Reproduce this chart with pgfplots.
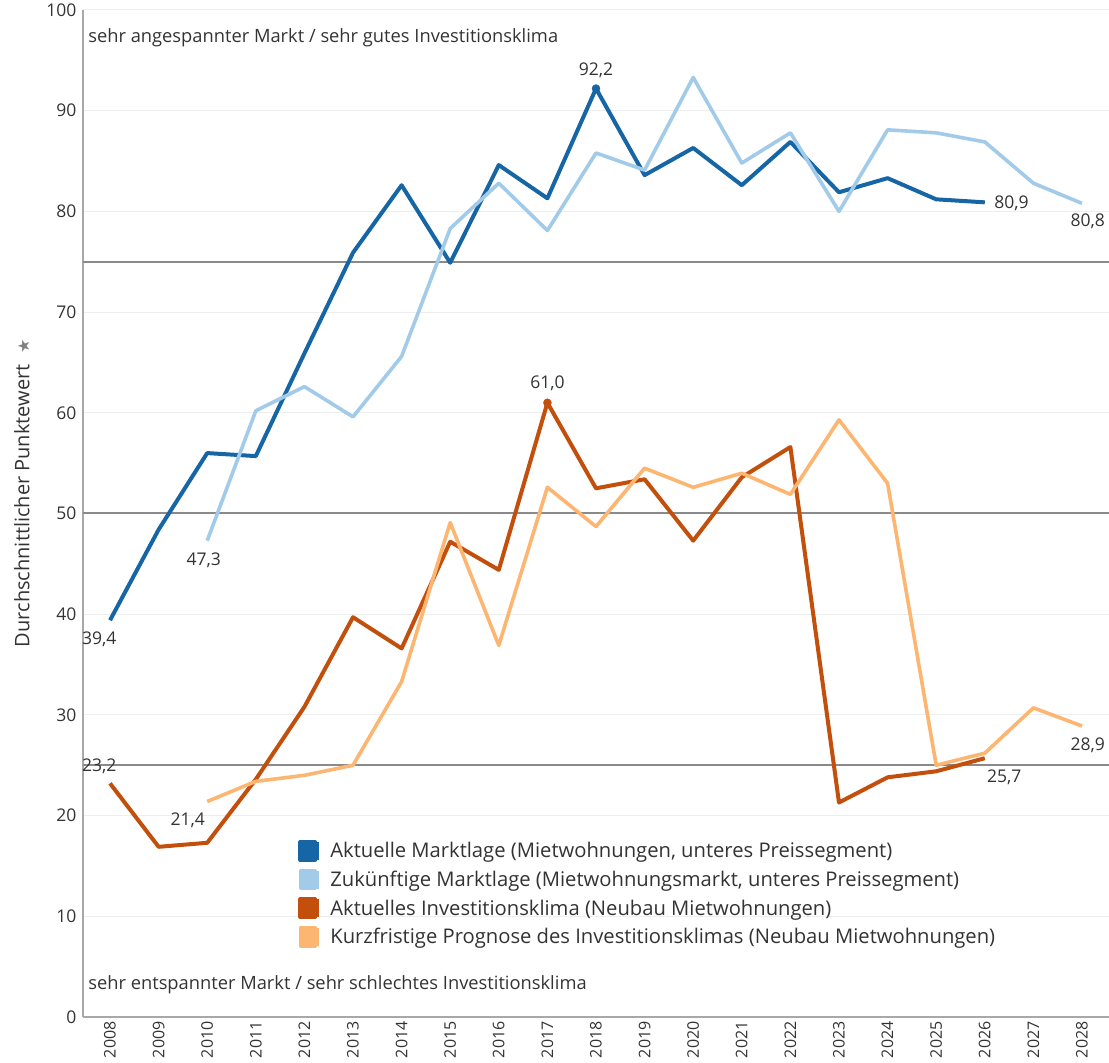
\documentclass[border=0pt]{standalone}
\usepackage{fontspec}
\setmainfont{Open Sans}
\newfontfamily\dejavu{DejaVu Sans}
\usepackage{pgfplots}
\pgfplotsset{compat=1.18}
\definecolor{cDB}{HTML}{1666A6}
\definecolor{cLB}{HTML}{A2CBEA}
\definecolor{cDO}{HTML}{C2500C}
\definecolor{cLO}{HTML}{FDB672}
\definecolor{cTxt}{HTML}{333333}
\definecolor{cGrid}{HTML}{EEEEEE}
\definecolor{cRef}{HTML}{8A8A8A}
\definecolor{cAx}{HTML}{A8A8A8}
\begin{document}
\begin{tikzpicture}
\begin{axis}[
  scale only axis, width=1026pt, height=1007pt, at={(0,0)}, anchor=south west,
  xmin=2007.444, xmax=2028.556, ymin=0, ymax=100,
  axis x line*=bottom, axis y line*=left,
  axis line style={cAx, line width=2pt},
  xtick={2008,2009,...,2028}, ytick={0,10,...,100},
  /pgf/number format/assume math mode=true,
  /pgf/number format/1000 sep={},
  major tick length=0pt,
  x tick label style={rotate=90, anchor=east, font=\fontsize{16}{16}\selectfont, color=cTxt, xshift=-1pt},
  y tick label style={font=\fontsize{17.5}{17.5}\selectfont, color=cTxt, xshift=-3pt},
  ymajorgrids, grid style={cGrid, line width=1pt},
  clip=false,
  legend style={draw=none, fill=none, at={(0.2,0.178)}, anchor=north west,
    font=\fontsize{20.2}{24}\selectfont, text=cTxt, row sep=6.8pt},
  legend cell align=left,
  legend image code/.code={\draw[#1, line width=18pt, line cap=butt, line join=miter] (0pt,0pt) -- (19pt,0pt);
    \path[use as bounding box] (0pt,-9pt) rectangle (15pt,9pt);},
]
\addplot[cRef, line width=2pt, forget plot] coordinates {(2007.444,25) (2028.556,25)};
\addplot[cRef, line width=2pt, forget plot] coordinates {(2007.444,50) (2028.556,50)};
\addplot[cRef, line width=2pt, forget plot] coordinates {(2007.444,75) (2028.556,75)};

\addplot[cDB, line width=4pt, line join=round] coordinates {
(2008,39.4) (2009,48.4) (2010,56.0) (2011,55.7) (2012,65.9) (2013,75.9) (2014,82.6)
(2015,74.9) (2016,84.6) (2017,81.3) (2018,92.2) (2019,83.6) (2020,86.3) (2021,82.6)
(2022,86.9) (2023,81.9) (2024,83.3) (2025,81.2) (2026,80.9)};
\addlegendentry{Aktuelle Marktlage (Mietwohnungen, unteres Preissegment)}
\addplot[cLB, line width=3.6pt, line join=round] coordinates {
(2010,47.3) (2011,60.2) (2012,62.6) (2013,59.6) (2014,65.6) (2015,78.3) (2016,82.8)
(2017,78.1) (2018,85.8) (2019,84.1) (2020,93.3) (2021,84.8) (2022,87.8) (2023,80.0)
(2024,88.1) (2025,87.8) (2026,86.9) (2027,82.8) (2028,80.8)};
\addlegendentry{Zukünftige Marktlage (Mietwohnungsmarkt, unteres Preissegment)}
\addplot[cDO, line width=4pt, line join=round] coordinates {
(2008,23.2) (2009,16.9) (2010,17.3) (2011,23.6) (2012,30.8) (2013,39.7) (2014,36.6)
(2015,47.2) (2016,44.4) (2017,61.0) (2018,52.5) (2019,53.4) (2020,47.3) (2021,53.6)
(2022,56.6) (2023,21.3) (2024,23.8) (2025,24.4) (2026,25.7)};
\addlegendentry{Aktuelles Investitionsklima (Neubau Mietwohnungen)}
\addplot[cLO, line width=3.6pt, line join=round] coordinates {
(2010,21.4) (2011,23.4) (2012,24.0) (2013,25.0) (2014,33.3) (2015,49.1) (2016,36.9)
(2017,52.6) (2018,48.7) (2019,54.5) (2020,52.6) (2021,54.0) (2022,51.9) (2023,59.3)
(2024,53.0) (2025,25.0) (2026,26.2) (2027,30.7) (2028,28.9)};
\addlegendentry{Kurzfristige Prognose des Investitionsklimas (Neubau Mietwohnungen)}

\addplot[cDB, only marks, mark=*, mark size=4pt, forget plot] coordinates {(2018,92.2)};
\addplot[cDO, only marks, mark=*, mark size=4pt, forget plot] coordinates {(2017,61.0)};

\begin{scope}[every node/.style={font=\fontsize{17.5}{17.5}\selectfont, text=cTxt}]
\node at (axis cs:2018,94.0) {92,2};
\node at (axis cs:2017,62.9) {61,0};
\node at (axis cs:2007.78,37.5) {39,4};
\node at (axis cs:2009.93,45.4) {47,3};
\node at (axis cs:2007.78,24.85) {23,2};
\node at (axis cs:2009.6,19.56) {21,4};
\node at (axis cs:2026.55,80.8) {80,9};
\node at (axis cs:2028.12,79.0) {80,8};
\node at (axis cs:2026.4,23.8) {25,7};
\node at (axis cs:2028.12,27.0) {28,9};
\end{scope}
\node[anchor=west, font=\fontsize{18.3}{18.3}\selectfont, text=cTxt, inner sep=0pt] at (axis cs:2007.55,97.2) {sehr angespannter Markt / sehr gutes Investitionsklima};
\node[anchor=west, font=\fontsize{18.3}{18.3}\selectfont, text=cTxt, inner sep=0pt] at (axis cs:2007.55,3.2) {sehr entspannter Markt / sehr schlechtes Investitionsklima};
\node[rotate=90, font=\fontsize{20}{20}\selectfont, text=cTxt] at ([xshift=-61pt]rel axis cs:0,0.52) {Durchschnittlicher Punktewert\ \ {\dejavu\color{gray}\fontsize{16}{16}\selectfont ★}};
\end{axis}
\pgfresetboundingbox
\path[use as bounding box] (-83pt,-46pt) rectangle (1026pt,1017pt);
\end{tikzpicture}
\end{document}
